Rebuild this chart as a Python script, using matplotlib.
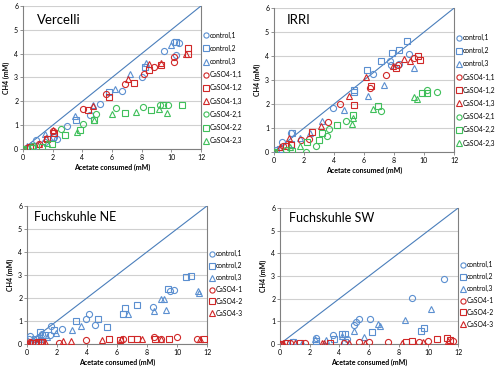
import numpy as np
import matplotlib.pyplot as plt

plt.rcParams['font.family'] = ['Lato', 'DejaVu Sans']

# Vercelli
ver_c1_x = [0, 0.3, 0.6, 0.9, 1.5, 2.1, 2.3, 2.94, 4.5, 5.2, 6.7, 8.0, 9.5, 10.3, 10.55, 10.2]
ver_c1_y = [0, 0.05, 0.1, 0.4, 0.3, 0.5, 0.43, 0.97, 1.43, 1.9, 2.45, 3.0, 4.1, 3.95, 4.45, 4.5]
ver_c2_x = [0, 0.7, 2.05, 3.6, 5.8, 8.2, 10.3]
ver_c2_y = [0, 0.14, 0.52, 1.2, 2.4, 3.45, 4.5]
ver_c3_x = [0, 0.3, 1.45, 3.5, 4.7, 6.2, 7.2, 8.3, 10.0]
ver_c3_y = [0, 0.14, 0.63, 1.4, 1.85, 2.5, 3.15, 3.6, 4.35]
ver_s11_x = [0, 0.25, 1.1, 2.05, 4.05, 5.6, 6.9, 8.15, 8.8, 10.15, 10.15]
ver_s11_y = [0, 0.05, 0.2, 0.77, 1.7, 2.3, 2.73, 3.13, 3.45, 3.65, 3.85]
ver_s12_x = [0, 0.5, 1.6, 2.1, 4.35, 5.8, 7.45, 8.5, 9.3, 11.1, 11.1]
ver_s12_y = [0, 0.1, 0.42, 0.68, 1.63, 2.2, 2.78, 3.3, 3.52, 4.22, 4.0]
ver_s13_x = [0, 1.1, 1.55, 2.05, 4.75, 7.1, 8.5, 9.3, 11.0]
ver_s13_y = [0, 0.2, 0.45, 0.8, 1.8, 2.95, 3.55, 3.62, 3.97]
ver_s21_x = [0, 0.7, 2.55, 4.05, 4.9, 6.3, 8.1, 9.25, 9.75]
ver_s21_y = [0, 0.14, 0.85, 1.03, 1.47, 1.73, 1.78, 1.85, 1.83]
ver_s22_x = [0, 0.6, 1.25, 1.95, 2.85, 3.85, 4.8, 6.9, 8.6, 9.45, 10.7]
ver_s22_y = [0, 0.05, 0.1, 0.2, 0.6, 0.8, 1.2, 1.5, 1.63, 1.83, 1.85]
ver_s23_x = [0, 1.6, 3.65, 4.8, 6.0, 7.65, 9.2, 9.7]
ver_s23_y = [0, 0.24, 0.7, 1.2, 1.48, 1.57, 1.68, 1.5]

# IRRI
irr_c1_x = [0, 0.13, 0.5, 1.15, 3.9, 6.6, 7.8, 7.7, 8.35, 9.0]
irr_c1_y = [0, 0.08, 0.43, 0.78, 1.85, 3.25, 3.62, 3.8, 3.68, 4.1]
irr_c2_x = [0, 0.4, 1.1, 1.2, 5.3, 5.3, 6.2, 7.15, 7.85, 8.3, 8.85]
irr_c2_y = [0, 0.12, 0.35, 0.8, 2.6, 2.5, 3.42, 3.8, 4.12, 4.25, 4.63]
irr_c3_x = [0, 1.75, 2.4, 3.2, 4.65, 6.25, 7.3, 9.3]
irr_c3_y = [0, 0.58, 0.78, 1.3, 1.77, 2.34, 2.8, 3.5]
irr_s11_x = [0, 0.6, 1.8, 2.3, 3.6, 4.4, 6.4, 7.45, 8.25, 9.35]
irr_s11_y = [0, 0.25, 0.5, 0.53, 1.27, 2.0, 2.68, 3.2, 3.64, 3.9]
irr_s12_x = [0, 0.8, 1.1, 2.55, 5.3, 6.45, 8.1, 9.6, 9.75]
irr_s12_y = [0, 0.25, 0.3, 0.85, 1.98, 2.76, 3.5, 4.0, 3.85]
irr_s13_x = [0, 0.4, 1.0, 3.1, 5.0, 6.1, 7.9, 8.65, 9.05]
irr_s13_y = [0, 0.2, 0.6, 1.08, 2.33, 3.14, 3.6, 3.87, 3.8]
irr_s21_x = [0, 0.8, 2.15, 2.8, 3.5, 3.65, 4.8, 7.1, 10.2, 10.85]
irr_s21_y = [0, 0.1, 0.02, 0.27, 0.65, 0.95, 1.28, 1.71, 2.6, 2.5]
irr_s22_x = [0, 1.2, 2.2, 3.0, 3.2, 4.2, 5.25, 6.9, 9.85, 10.2]
irr_s22_y = [0, 0.05, 0.42, 0.5, 0.78, 1.12, 1.55, 1.9, 2.48, 2.48]
irr_s23_x = [0, 1.05, 1.7, 5.25, 5.2, 6.6, 9.35, 9.5]
irr_s23_y = [0, 0.22, 0.27, 1.42, 1.15, 1.8, 2.28, 2.22]

# Fuchskuhle NE
fne_c1_x = [0, 0.1, 0.2, 0.65, 1.0, 1.55, 1.6, 2.35, 3.9, 4.15, 4.5, 8.4, 9.5, 9.8, 0.4, 0.8]
fne_c1_y = [0, 0.23, 0.35, 0.2, 0.45, 0.4, 0.8, 0.65, 1.1, 1.29, 0.84, 1.6, 2.29, 2.36, 0.1, 0.3]
fne_c2_x = [0, 0.5, 0.85, 1.2, 1.8, 3.25, 4.7, 5.3, 6.4, 6.5, 7.35, 9.4, 10.6, 10.95]
fne_c2_y = [0, 0.2, 0.52, 0.4, 0.6, 1.0, 1.1, 0.74, 1.32, 1.58, 1.7, 2.4, 2.9, 2.95]
fne_c3_x = [0, 0.85, 1.3, 1.9, 3.0, 3.6, 6.7, 8.45, 8.95, 9.1, 9.25, 11.4, 11.45]
fne_c3_y = [0, 0.23, 0.3, 0.48, 0.61, 0.78, 1.3, 1.45, 1.94, 1.97, 1.46, 2.3, 2.2]
fne_s1_x = [0, 0.2, 0.5, 0.9, 2.1, 3.9, 6.4, 8.45, 8.9, 10.0, 11.3]
fne_s1_y = [0, 0.08, 0.05, 0.1, 0.05, 0.18, 0.2, 0.3, 0.2, 0.29, 0.22]
fne_s2_x = [0, 0.3, 0.7, 1.0, 5.45, 6.2, 6.9, 7.35, 8.55, 9.45, 11.8]
fne_s2_y = [0, 0.05, 0.08, 0.1, 0.2, 0.19, 0.2, 0.2, 0.22, 0.22, 0.23]
fne_s3_x = [0, 0.65, 1.2, 2.4, 2.95, 5.0, 6.25, 7.65, 8.95, 11.55]
fne_s3_y = [0, 0.08, 0.1, 0.13, 0.13, 0.19, 0.2, 0.2, 0.23, 0.23]

# Fuchskuhle SW
fsw_c1_x = [0, 0.4, 0.9, 2.4, 3.6, 4.5, 5.0, 5.1, 5.35, 6.1, 8.9, 11.05]
fsw_c1_y = [0, 0.05, 0.1, 0.25, 0.41, 0.22, 0.84, 0.97, 1.08, 1.08, 2.04, 2.85]
fsw_c2_x = [0, 0.9, 2.45, 3.65, 4.2, 4.4, 4.4, 6.2, 9.5, 9.7]
fsw_c2_y = [0, 0.07, 0.13, 0.22, 0.44, 0.44, 0.1, 0.54, 0.59, 0.69]
fsw_c3_x = [0, 1.5, 2.35, 3.1, 4.15, 5.0, 5.65, 6.6, 6.75, 8.45, 10.2]
fsw_c3_y = [0, 0.05, 0.22, 0.17, 0.37, 0.59, 0.32, 0.86, 0.79, 1.06, 1.54]
fsw_s1_x = [0, 0.7, 1.7, 4.3, 5.35, 6.0, 7.3, 9.4, 10.0, 11.65]
fsw_s1_y = [0, 0.03, 0.03, 0.05, 0.07, 0.09, 0.1, 0.1, 0.13, 0.12]
fsw_s2_x = [0, 0.5, 1.35, 3.35, 8.5, 8.9, 10.6, 11.25, 11.45]
fsw_s2_y = [0, 0.02, 0.03, 0.03, 0.1, 0.12, 0.2, 0.25, 0.16]
fsw_s3_x = [0, 0.2, 1.0, 2.8, 2.95, 4.65, 5.7, 8.2, 9.65, 11.3]
fsw_s3_y = [0, 0.03, 0.03, 0.03, 0.03, 0.05, 0.05, 0.06, 0.1, 0.13]

blue = '#5b8fd0'
red = '#d02828'
green = '#3fbf5a'
line_col = '#4a7ebb'

labels9 = ['control,1', 'control,2', 'control,3', 'CaSO4-1,1', 'CaSO4-1,2', 'CaSO4-1,3',
           'CaSO4-2,1', 'CaSO4-2,2', 'CaSO4-2,3']
labels6 = ['control,1', 'control,2', 'control,3', 'CaSO4-1', 'CaSO4-2', 'CaSO4-3']
markers = ['o', 's', '^']


def panel(ax, series, labels, title, title_pos, title_size, leg_top, leg_spacing):
    ax.plot([0, 12], [0, 6], color=line_col, lw=0.8, zorder=1)
    cols = [blue, red, green]
    for i, (x, y) in enumerate(series):
        ax.plot(x, y, ls='none', marker=markers[i % 3], ms=4.4, mew=0.8,
                mfc='none', mec=cols[i // 3], label=labels[i], zorder=3)
    ax.set_xlim(0, 12)
    ax.set_ylim(0, 6)
    ax.set_xticks(range(0, 13, 2))
    ax.set_yticks(range(0, 7))
    ax.yaxis.grid(True, color='#d0d0d0', lw=0.8)
    ax.set_axisbelow(True)
    ax.tick_params(labelsize=5, length=2, width=0.6, color='#808080', pad=1.5)
    for s in ['left', 'bottom', 'right']:
        ax.spines[s].set_color('#808080')
        ax.spines[s].set_linewidth(0.8)
    ax.spines['top'].set_visible(False)
    ax.set_xlabel('Acetate consumed (mM)', fontsize=5, fontweight='bold', labelpad=2)
    ax.set_ylabel('CH4 (mM)', fontsize=5, fontweight='bold', labelpad=3)
    ax.text(title_pos[0], title_pos[1], title, transform=ax.transAxes,
            fontsize=title_size, va='center')
    ax.legend(loc='upper left', bbox_to_anchor=(1.0, leg_top), frameon=False, fontsize=4.9,
              handletextpad=0.1, handlelength=1.0, borderaxespad=0.0, borderpad=0.2,
              labelspacing=leg_spacing, markerscale=0.85)


fig = plt.figure(figsize=(5, 3.69), dpi=100)
ax1 = fig.add_axes([0.046, 0.596, 0.356, 0.388])
ax2 = fig.add_axes([0.548, 0.588, 0.36, 0.39])
ax3 = fig.add_axes([0.054, 0.068, 0.36, 0.374])
ax4 = fig.add_axes([0.56, 0.068, 0.356, 0.368])

panel(ax1, [(ver_c1_x, ver_c1_y), (ver_c2_x, ver_c2_y), (ver_c3_x, ver_c3_y),
            (ver_s11_x, ver_s11_y), (ver_s12_x, ver_s12_y), (ver_s13_x, ver_s13_y),
            (ver_s21_x, ver_s21_y), (ver_s22_x, ver_s22_y), (ver_s23_x, ver_s23_y)],
      labels9, 'Vercelli', (0.08, 0.9), 9.5, 0.83, 0.9)
panel(ax2, [(irr_c1_x, irr_c1_y), (irr_c2_x, irr_c2_y), (irr_c3_x, irr_c3_y),
            (irr_s11_x, irr_s11_y), (irr_s12_x, irr_s12_y), (irr_s13_x, irr_s13_y),
            (irr_s21_x, irr_s21_y), (irr_s22_x, irr_s22_y), (irr_s23_x, irr_s23_y)],
      labels9, 'IRRI', (0.07, 0.92), 9.5, 0.83, 0.9)
panel(ax3, [(fne_c1_x, fne_c1_y), (fne_c2_x, fne_c2_y), (fne_c3_x, fne_c3_y),
            (fne_s1_x, fne_s1_y), (fne_s2_x, fne_s2_y), (fne_s3_x, fne_s3_y)],
      labels6, 'Fuchskuhle NE', (0.04, 0.92), 9, 0.69, 0.72)
panel(ax4, [(fsw_c1_x, fsw_c1_y), (fsw_c2_x, fsw_c2_y), (fsw_c3_x, fsw_c3_y),
            (fsw_s1_x, fsw_s1_y), (fsw_s2_x, fsw_s2_y), (fsw_s3_x, fsw_s3_y)],
      labels6, 'Fuchskuhle SW', (0.05, 0.93), 9, 0.62, 0.72)

fig.savefig('out.png', dpi=100)
